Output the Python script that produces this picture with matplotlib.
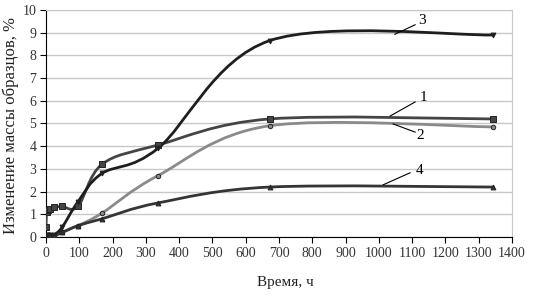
import numpy as np
import matplotlib
matplotlib.use("Agg")
import matplotlib.pyplot as plt
from matplotlib.path import Path
from matplotlib.patches import PathPatch

plt.rcParams['font.family'] = ['Liberation Serif', 'DejaVu Serif']

time_h = [0, 2, 6, 12, 24, 48, 96, 168, 336, 672, 1344]
series1 = [0.45, 1.1, 1.2, 1.25, 1.3, 1.35, 1.35, 3.2, 4.05, 5.2, 5.2]
series2 = [0.0, 0.05, 0.05, 0.05, 0.05, 0.2, 0.5, 1.05, 2.7, 4.9, 4.85]
series3 = [0.0, 0.1, 0.1, 0.1, 0.1, 0.42, 1.55, 2.8, 3.9, 8.65, 8.9]
series4 = [0.0, 0.05, 0.05, 0.05, 0.05, 0.2, 0.5, 0.8, 1.5, 2.2, 2.2]

labels = ['1', '2', '3', '4']
colors = ['#454545', '#8a8a8a', '#1e1e1e', '#353535']
markers = ['s', 'o', 'v', '^']
msizes = [4.5, 3.2, 3.5, 3.5]
# label positions (data coords): leader start, leader end, text position
label_pos = {
    '1': ((1034, 5.33), (1109, 5.95), (1133, 6.15)),
    '2': ((1043, 4.98), (1109, 4.62), (1124, 4.45)),
    '3': ((1048, 8.93), (1109, 9.35), (1129, 9.55)),
    '4': ((1013, 2.30), (1094, 2.83), (1121, 2.95)),
}


def smooth_path(x, y, tension=1/6):
    """Excel-like Bezier smoothing through the points."""
    pts = np.column_stack([x, y]).astype(float)
    n = len(pts)
    verts = [pts[0]]
    codes = [Path.MOVETO]
    for i in range(n - 1):
        p0 = pts[i - 1] if i > 0 else pts[i]
        p1 = pts[i]
        p2 = pts[i + 1]
        p3 = pts[i + 2] if i + 2 < n else pts[i + 1]
        c1 = p1 + (p2 - p0) * tension
        c2 = p2 - (p3 - p1) * tension
        verts += [c1, c2, p2]
        codes += [Path.CURVE4] * 3
    return Path(verts, codes)


fig = plt.figure(figsize=(5.35, 2.99), dpi=100)
ax = fig.add_axes([46/535, 1 - 237/299, (512-46)/535, (237-10)/299])

all_series = [series1, series2, series3, series4]
for s, c, m, ms in zip(all_series, colors, markers, msizes):
    patch = PathPatch(smooth_path(time_h, s), facecolor='none', edgecolor=c,
                      lw=2.0, zorder=3, capstyle='round', joinstyle='round')
    ax.add_patch(patch)
    ax.plot(time_h, s, linestyle='none', marker=m, ms=ms, color=c,
            markeredgecolor='#222222', markeredgewidth=0.7, zorder=4)

for lab in labels:
    (x0, y0), (x1, y1), (xt, yt) = label_pos[lab]
    ax.plot([x0, x1], [y0, y1], color='black', lw=0.8, zorder=5)
    ax.text(xt, yt, lab, fontsize=11, ha='center', va='center', zorder=6)

ax.set_xlim(0, 1400)
ax.set_ylim(0, 10)
ax.set_xticks(np.arange(0, 1401, 100))
ax.set_yticks(np.arange(0, 11, 1))
ax.grid(axis='y', color='#c8c8c8', lw=1.0)
ax.set_axisbelow(True)
for side in ['top', 'right']:
    ax.spines[side].set_color('#c8c8c8')
for side in ['left', 'bottom']:
    ax.spines[side].set_color('black')
    ax.spines[side].set_linewidth(0.8)
ax.tick_params(axis='both', direction='out', length=4, width=0.8,
               labelsize=10, pad=3, colors='black', labelcolor='#333333')
ax.set_xlabel('Время, ч', fontsize=11, color='#222222')
ax.xaxis.set_label_coords(0.513, -0.17)
ax.set_ylabel('Изменение массы образцов, %', fontsize=12, color='#222222')
ax.yaxis.set_label_coords(-0.058, 0.49)

fig.savefig('out.png', dpi=100, facecolor='white')
